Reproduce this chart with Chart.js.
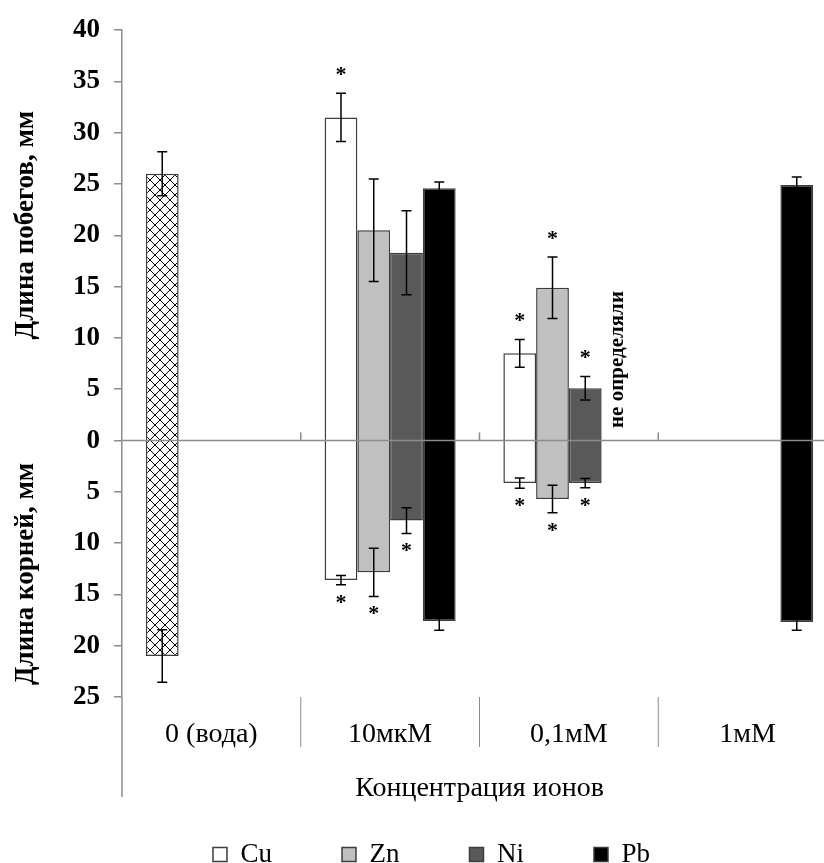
<!DOCTYPE html>
<html>
<head>
<meta charset="utf-8">
<script src="https://cdn.jsdelivr.net/npm/chart.js@4.4.1/dist/chart.umd.min.js"></script>
<style>
  html, body { margin: 0; padding: 0; background: #fff; overflow: hidden; }
  #wrap { position: relative; width: 845px; height: 878px; }
</style>
</head>
<body>
<div id="wrap"><canvas id="chart"></canvas></div>
<script>
// === Data ===
const categories = ['0 (вода)', '10мкМ', '0,1мМ', '1мМ'];
const ions = ['Cu', 'Zn', 'Ni', 'Pb'];

// длина побегов, мм (вверх)
const shootCu = [26.0, 31.5, 8.5, null];
const shootZn = [null, 20.5, 14.9, null];
const shootNi = [null, 18.3, 5.1, null];
const shootPb = [null, 24.6, null, 24.9];

// длина корней, мм (вниз)
const rootCu = [21.0, 13.6, 4.15, null];
const rootZn = [null, 12.85, 5.7, null];
const rootNi = [null, 7.8, 4.15, null];
const rootPb = [null, 17.6, null, 17.7];

// ошибки
const shootErrCu = [2.15, 2.35, 1.35, null];
const shootErrZn = [null, 5.0, 3.0, null];
const shootErrNi = [null, 4.1, 1.15, null];
const shootErrPb = [null, 0.6, null, 0.8];
const rootErrCu = [2.55, 0.45, 0.5, null];
const rootErrZn = [null, 2.35, 1.35, null];
const rootErrNi = [null, 1.25, 0.45, null];
const rootErrPb = [null, 0.9, null, 0.8];

// достоверные отличия (*)
const shootSigCu = [0, 1, 1, 0];
const shootSigZn = [0, 0, 1, 0];
const shootSigNi = [0, 0, 1, 0];
const shootSigPb = [0, 0, 0, 0];
const rootSigCu = [0, 1, 1, 0];
const rootSigZn = [0, 1, 1, 0];
const rootSigNi = [0, 1, 1, 0];
const rootSigPb = [0, 0, 0, 0];

const yTicksMin = -25, yTicksMax = 40, yStep = 5;
const notMeasured = 'не определяли';
const notMeasuredAt = { ion: 'Pb', index: 2, value: 7.9 };
const titleShoots = 'Длина побегов, мм';
const titleRoots = 'Длина корней, мм';
const titleX = 'Концентрация ионов';

// === Styles ===
const SERIF = "'Liberation Serif', 'Times New Roman', serif";
const fills = ['#ffffff', '#c0c0c0', '#595959', '#000000'];
const AXIS_GRAY = '#8c8c8c';

const canvas = document.getElementById('chart');
const ctx2d = canvas.getContext('2d');

function hatchPattern() {
  const c = document.createElement('canvas');
  c.width = 10; c.height = 10;
  const g = c.getContext('2d');
  g.fillStyle = '#fff';
  g.fillRect(0, 0, 10, 10);
  g.strokeStyle = '#000';
  g.lineWidth = 1;
  g.beginPath();
  g.moveTo(0, 0); g.lineTo(10, 10);
  g.moveTo(10, 0); g.lineTo(0, 10);
  g.stroke();
  return ctx2d.createPattern(c, 'repeat');
}
const hatch = hatchPattern();

const shoots = [shootCu, shootZn, shootNi, shootPb];
const roots = [rootCu, rootZn, rootNi, rootPb];
const shootErr = [shootErrCu, shootErrZn, shootErrNi, shootErrPb];
const rootErr = [rootErrCu, rootErrZn, rootErrNi, rootErrPb];
const shootSig = [shootSigCu, shootSigZn, shootSigNi, shootSigPb];
const rootSig = [rootSigCu, rootSigZn, rootSigNi, rootSigPb];

const datasets = ions.map((ion, i) => ({
  label: ion,
  data: shoots[i].map((s, j) => (s == null ? null : [-roots[i][j], s])),
  backgroundColor: i === 0 ? (c => (c.dataIndex === 0 ? hatch : fills[0])) : fills[i],
  borderColor: '#3c3c3c',
  borderWidth: 1.5,
  borderSkipped: false,
  categoryPercentage: 0.733,
  barPercentage: 1.0
}));

// === Overlay: zero line, error bars, asterisks, texts ===
const overlay = {
  id: 'overlay',
  afterDatasetsDraw(chart) {
    const { ctx, chartArea: a, scales: { x, y } } = chart;
    const y0 = y.getPixelForValue(0);
    ctx.save();

    // zero line with category ticks
    ctx.strokeStyle = AXIS_GRAY;
    ctx.lineWidth = 1.5;
    ctx.beginPath();
    ctx.moveTo(a.left, y0);
    ctx.lineTo(a.right, y0);
    for (let i = 1; i < categories.length; i++) {
      const bx = (x.getPixelForValue(i - 1) + x.getPixelForValue(i)) / 2;
      ctx.moveTo(bx, y0);
      ctx.lineTo(bx, y0 - 8);
    }
    ctx.stroke();

    // error bars
    ctx.strokeStyle = '#000';
    ctx.lineWidth = 1.5;
    ctx.fillStyle = '#000';
    ctx.font = 'bold 22px ' + SERIF;
    ctx.textAlign = 'center';
    ctx.textBaseline = 'alphabetic';
    chart.data.datasets.forEach((ds, i) => {
      const meta = chart.getDatasetMeta(i);
      meta.data.forEach((bar, j) => {
        if (ds.data[j] == null) return;
        const bx = bar.x;
        const ends = [
          { v: shoots[i][j], e: shootErr[i][j], sig: shootSig[i][j], dir: -1 },
          { v: -roots[i][j], e: rootErr[i][j], sig: rootSig[i][j], dir: 1 }
        ];
        ends.forEach(({ v, e, sig, dir }) => {
          const p1 = y.getPixelForValue(v + e);
          const p2 = y.getPixelForValue(v - e);
          ctx.beginPath();
          ctx.moveTo(bx, p1); ctx.lineTo(bx, p2);
          ctx.moveTo(bx - 5, p1); ctx.lineTo(bx + 5, p1);
          ctx.moveTo(bx - 5, p2); ctx.lineTo(bx + 5, p2);
          ctx.stroke();
          if (sig) {
            const outer = dir < 0 ? Math.min(p1, p2) : Math.max(p1, p2);
            const cy = outer + dir * 18;
            ctx.fillText('*', bx, cy + 6);
          }
        });
      });
    });

    // не определяли
    const ni = ions.indexOf(notMeasuredAt.ion);
    const nb = chart.getDatasetMeta(ni).data[notMeasuredAt.index];
    ctx.translate(nb.x, y.getPixelForValue(notMeasuredAt.value));
    ctx.rotate(-Math.PI / 2);
    ctx.font = 'bold 21px ' + SERIF;
    ctx.textBaseline = 'middle';
    ctx.fillText(notMeasured, 0, 0);
    ctx.restore();
  },
  afterDraw(chart) {
    const { ctx, chartArea: a, scales: { x, y } } = chart;
    ctx.save();
    ctx.strokeStyle = AXIS_GRAY;
    ctx.lineWidth = 1;
    ctx.beginPath();
    for (let i = 1; i < categories.length; i++) {
      const bx = (x.getPixelForValue(i - 1) + x.getPixelForValue(i)) / 2;
      ctx.moveTo(bx, a.bottom);
      ctx.lineTo(bx, a.bottom + 50);
    }
    ctx.stroke();
    ctx.lineWidth = 1.5;
    ctx.beginPath();
    ctx.moveTo(a.left, a.bottom);
    ctx.lineTo(a.left, a.bottom + 100);
    ctx.stroke();

    // y titles
    ctx.fillStyle = '#000';
    ctx.font = 'bold 27px ' + SERIF;
    ctx.textAlign = 'center';
    ctx.textBaseline = 'middle';
    [[titleShoots, 21], [titleRoots, -13]].forEach(([t, v]) => {
      ctx.save();
      ctx.translate(a.left - 96, y.getPixelForValue(v));
      ctx.rotate(-Math.PI / 2);
      ctx.fillText(t, 0, 0);
      ctx.restore();
    });
    ctx.restore();
  }
};

new Chart(canvas, {
  type: 'bar',
  data: { labels: categories, datasets },
  options: {
    responsive: true,
    maintainAspectRatio: false,
    animation: false,
    layout: { padding: { top: 25, right: 8, left: 26, bottom: 0 } },
    scales: {
      x: {
        grid: { display: false },
        border: { display: false },
        ticks: { color: '#000', font: { family: SERIF, size: 28 }, padding: 13, maxRotation: 0 },
        title: { display: true, text: titleX, color: '#000', font: { family: SERIF, size: 28 }, padding: { top: 0, bottom: -34 } },
        afterFit(s) { s.height = 74; }
      },
      y: {
        min: yTicksMin,
        max: yTicksMax,
        ticks: {
          stepSize: yStep,
          color: '#000',
          font: { family: SERIF, size: 27, weight: 'bold' },
          padding: 14,
          callback: v => Math.abs(v)
        },
        grid: { drawOnChartArea: false, color: AXIS_GRAY, tickLength: 8, lineWidth: 1.5 },
        border: { color: AXIS_GRAY, width: 1.5 },
        afterFit(s) { s.width = 96; }
      }
    },
    plugins: {
      legend: {
        position: 'bottom',
        labels: {
          color: '#000',
          font: { family: SERIF, size: 27 },
          boxWidth: 14,
          boxHeight: 14,
          padding: 70,
          generateLabels(chart) {
            const items = Chart.defaults.plugins.legend.labels.generateLabels(chart);
            items.forEach(it => { it.fillStyle = fills[it.datasetIndex]; });
            return items;
          }
        }
      },
      tooltip: { enabled: false }
    }
  },
  plugins: [overlay]
});
</script>
</body>
</html>
